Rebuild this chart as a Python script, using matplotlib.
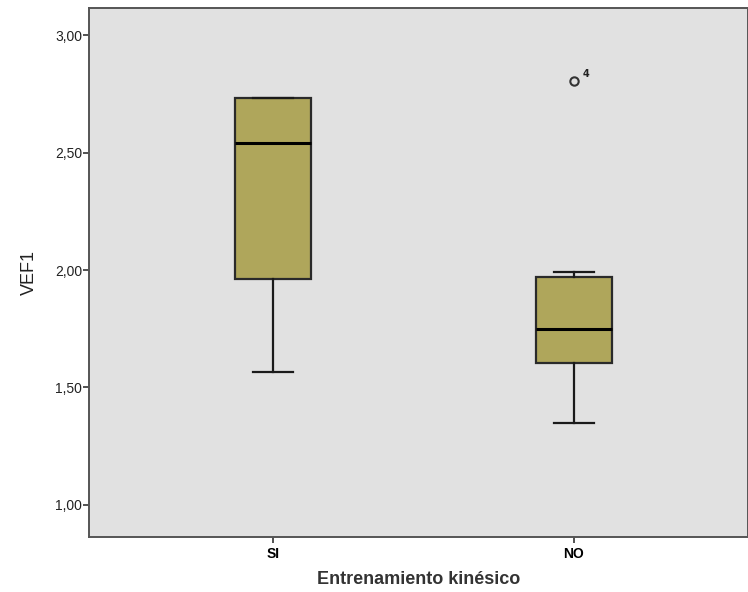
import matplotlib
matplotlib.use("Agg")
import matplotlib.pyplot as plt

# --- Data
groups = ["SI", "NO"]
medians = [2.54, 1.75]
q1 = [1.96, 1.605]
q3 = [2.73, 1.97]
whislo = [1.565, 1.35]
whishi = [2.73, 1.99]
outliers = [[], [2.805]]
outlier_labels = [[], ["4"]]

y_ticks = [1.0, 1.5, 2.0, 2.5, 3.0]
y_ticklabels = ["1,00", "1,50", "2,00", "2,50", "3,00"]

stats = []
for i, g in enumerate(groups):
    stats.append({
        "label": g, "med": medians[i], "q1": q1[i], "q3": q3[i],
        "whislo": whislo[i], "whishi": whishi[i], "fliers": outliers[i],
    })

fig = plt.figure(figsize=(7.48, 5.92), dpi=100)
ax = fig.add_axes([0.119, 0.093, 0.881, 0.8935], facecolor="#E1E1E1")

positions = [1, 2]
ax.bxp(
    stats, positions=positions, widths=0.25, patch_artist=True,
    boxprops=dict(facecolor="#AFA65B", edgecolor="#2a2a2a", linewidth=1.6),
    medianprops=dict(color="black", linewidth=2.2),
    whiskerprops=dict(color="#1a1a1a", linewidth=1.6),
    capprops=dict(color="#1a1a1a", linewidth=1.6),
    capwidths=0.13,
    flierprops=dict(marker="o", markerfacecolor="none", markeredgecolor="#333333",
                    markersize=6, markeredgewidth=1.5),
)

for i, labs in enumerate(outlier_labels):
    for val, lab in zip(outliers[i], labs):
        ax.annotate(lab, xy=(positions[i], val), xytext=(6, 5),
                    textcoords="offset points", fontsize=7, weight="bold",
                    ha="left", va="center", color="#222222")

ax.set_xlim(0.389, 2.578)
ax.set_ylim(0.864, 3.115)

ax.set_yticks(y_ticks)
ax.set_yticklabels(y_ticklabels, fontsize=10, family="Liberation Sans", color="#222222")
ax.set_xticks(positions)
ax.set_xticklabels(groups, fontsize=10, weight="bold", family="Liberation Sans")
ax.tick_params(axis="both", direction="out", length=4, width=1.2, color="#333333")
ax.tick_params(axis="y", pad=1)

for s in ax.spines.values():
    s.set_color("#555555")
    s.set_linewidth(1.4)

ax.set_ylabel("VEF1", fontsize=13, family="Liberation Sans", color="#222222", labelpad=12)
ax.set_xlabel("Entrenamiento kinésico", fontsize=13, weight="bold",
              family="Liberation Sans", color="#333333", labelpad=7)

fig.savefig("out.png", dpi=100, facecolor="white")
